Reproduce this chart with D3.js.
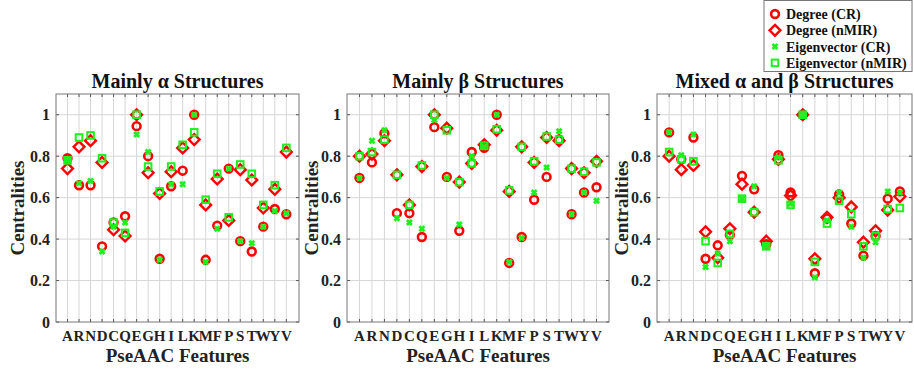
<!DOCTYPE html>
<html>
<head>
  <script src="https://d3js.org/d3.v7.min.js"></script>
  <style>
    body { margin: 0; background: #fff; }
    svg { font-family: "Liberation Serif", "Times New Roman", serif; font-weight: bold; }
    .grid line { stroke: #d6d6d6; stroke-width: 1; }
    .tick-label { font-size: 16px; fill: #222; }
    .x-label { font-size: 15px; fill: #222; }
    .title { font-size: 20px; text-anchor: middle; fill: #111; }
    .axis-label { font-size: 19px; text-anchor: middle; fill: #222; }
    .legend-text { font-size: 14px; fill: #111; }
  </style>
</head>
<body>
  <div id="chart"></div>
  <script>
    const categories = ["A","R","N","D","C","Q","E","G","H","I","L","K","M","F","P","S","T","W","Y","V"];
    const panelTitles = ["Mainly α Structures", "Mainly β Structures", "Mixed α and β Structures"];
    const seriesNames = ["Degree (CR)", "Degree (nMIR)", "Eigenvector (CR)", "Eigenvector (nMIR)"];
    const yTicks = [0, 0.2, 0.4, 0.6, 0.8, 1];

    // Mainly alpha
    const alphaDegreeCR   = [0.79,0.66,0.66,0.365,0.48,0.51,0.945,0.80,0.305,0.655,0.73,1.0,0.30,0.465,0.74,0.39,0.34,0.46,0.545,0.52];
    const alphaDegreeNMIR = [0.74,0.845,0.875,0.77,0.445,0.415,1.0,0.72,0.62,0.725,0.84,0.88,0.565,0.69,0.49,0.735,0.685,0.55,0.64,0.82];
    const alphaEigCR      = [0.78,0.67,0.68,0.34,0.46,0.48,0.905,0.82,0.30,0.665,0.665,1.0,0.29,0.45,0.74,0.39,0.38,0.46,0.535,0.525];
    const alphaEigNMIR    = [0.78,0.89,0.90,0.79,0.48,0.43,1.0,0.75,0.63,0.75,0.855,0.915,0.59,0.715,0.505,0.76,0.715,0.565,0.66,0.84];

    // Mainly beta
    const betaDegreeCR   = [0.695,0.77,0.91,0.525,0.525,0.41,0.94,0.70,0.44,0.82,0.84,1.0,0.285,0.41,0.59,0.70,0.88,0.52,0.625,0.65];
    const betaDegreeNMIR = [0.80,0.81,0.875,0.71,0.565,0.75,1.0,0.935,0.675,0.765,0.855,0.925,0.63,0.845,0.77,0.89,0.875,0.74,0.72,0.775];
    const betaEigCR      = [0.695,0.875,0.925,0.50,0.48,0.45,0.975,0.695,0.47,0.80,0.845,1.0,0.29,0.405,0.625,0.745,0.92,0.52,0.625,0.585];
    const betaEigNMIR    = [0.80,0.82,0.88,0.71,0.565,0.755,1.0,0.925,0.675,0.765,0.85,0.93,0.635,0.845,0.775,0.895,0.88,0.74,0.725,0.77];

    // Mixed alpha and beta
    const mixedDegreeCR   = [0.915,0.785,0.89,0.305,0.37,0.42,0.705,0.64,0.375,0.805,0.625,1.0,0.235,0.50,0.615,0.475,0.32,0.415,0.595,0.63];
    const mixedDegreeNMIR = [0.80,0.735,0.755,0.435,0.31,0.45,0.665,0.53,0.39,0.785,0.61,1.0,0.305,0.505,0.60,0.555,0.385,0.44,0.54,0.605];
    const mixedEigCR      = [0.915,0.805,0.905,0.265,0.33,0.39,0.595,0.655,0.365,0.795,0.57,1.0,0.215,0.49,0.625,0.46,0.31,0.385,0.63,0.625];
    const mixedEigNMIR    = [0.82,0.785,0.775,0.39,0.285,0.425,0.595,0.53,0.365,0.78,0.565,1.0,0.29,0.475,0.585,0.52,0.365,0.415,0.545,0.55];

    const panelData = [
      [alphaDegreeCR, alphaDegreeNMIR, alphaEigCR, alphaEigNMIR],
      [betaDegreeCR, betaDegreeNMIR, betaEigCR, betaEigNMIR],
      [mixedDegreeCR, mixedDegreeNMIR, mixedEigCR, mixedEigNMIR]
    ];

    const W = 914, H = 369;
    const plotTop = 94, plotBottom = 322;
    const panels = [
      {left: 56, right: 299, xmax: 21.1, ylab: 17},
      {left: 347, right: 609, xmax: 21, ylab: 311},
      {left: 657, right: 912, xmax: 21, ylab: 621}
    ];
    const red = "#ff0000", green = "#1ef01e";

    const svg = d3.select("#chart").append("svg")
      .attr("width", W).attr("height", H);

    const y = d3.scaleLinear().domain([0, 1.1]).range([plotBottom, plotTop]);

    // marker drawers
    function drawMarker(g, type, cx, cy) {
      if (type === 0) {
        g.append("circle").attr("cx", cx).attr("cy", cy).attr("r", 3.9)
          .attr("fill", "none").attr("stroke", red).attr("stroke-width", 2.6);
      } else if (type === 1) {
        const s = 5.4;
        g.append("path")
          .attr("d", `M${cx},${cy - s}L${cx + s},${cy}L${cx},${cy + s}L${cx - s},${cy}Z`)
          .attr("fill", "none").attr("stroke", red).attr("stroke-width", 2.4);
      } else if (type === 2) {
        const s = 2.5;
        g.append("path")
          .attr("d", `M${cx - s},${cy - s}L${cx + s},${cy + s}M${cx - s},${cy + s}L${cx + s},${cy - s}`)
          .attr("stroke", green).attr("stroke-width", 2.8).attr("fill", "none");
      } else {
        const s = 3.3;
        g.append("rect").attr("x", cx - s).attr("y", cy - s)
          .attr("width", 2 * s).attr("height", 2 * s)
          .attr("fill", "none").attr("stroke", green).attr("stroke-width", 2);
      }
    }

    panels.forEach((p, i) => {
      const x = d3.scaleLinear().domain([0, p.xmax]).range([p.left, p.right]);
      const g = svg.append("g");
      const xs = categories.map((c, k) => k + 1);

      // grid
      const grid = g.append("g").attr("class", "grid");
      grid.selectAll(".gx").data(xs).enter().append("line")
        .attr("x1", d => x(d)).attr("x2", d => x(d))
        .attr("y1", plotTop).attr("y2", plotBottom);
      grid.selectAll(".gy").data(yTicks.slice(1)).enter().append("line")
        .attr("x1", p.left).attr("x2", p.right)
        .attr("y1", d => y(d)).attr("y2", d => y(d));

      // tick marks (inside, bottom/top/left/right)
      const ticks = g.append("g").attr("stroke", "#555").attr("stroke-width", 1);
      xs.forEach(d => {
        ticks.append("line").attr("x1", x(d)).attr("x2", x(d)).attr("y1", plotBottom).attr("y2", plotBottom - 3);
        ticks.append("line").attr("x1", x(d)).attr("x2", x(d)).attr("y1", plotTop).attr("y2", plotTop + 3);
      });
      yTicks.forEach(d => {
        ticks.append("line").attr("x1", p.left).attr("x2", p.left + 3).attr("y1", y(d)).attr("y2", y(d));
        ticks.append("line").attr("x1", p.right).attr("x2", p.right - 3).attr("y1", y(d)).attr("y2", y(d));
      });

      // box
      g.append("rect").attr("x", p.left).attr("y", plotTop)
        .attr("width", p.right - p.left).attr("height", plotBottom - plotTop)
        .attr("fill", "none").attr("stroke", "#777").attr("stroke-width", 1);

      // y tick labels
      g.selectAll(".ylab").data(yTicks).enter().append("text")
        .attr("class", "tick-label")
        .attr("x", p.left - 6).attr("y", d => y(d) + 5.5)
        .attr("text-anchor", "end")
        .text(d => d === 0 ? "0" : d === 1 ? "1" : d3.format(".1f")(d));

      // x tick labels
      g.selectAll(".xlab").data(categories).enter().append("text")
        .attr("class", "x-label")
        .attr("x", (d, k) => x(k + 1)).attr("y", 341)
        .attr("text-anchor", "middle")
        .text(d => d);

      // titles and labels
      g.append("text").attr("class", "title")
        .attr("x", (p.left + p.right) / 2).attr("y", 88)
        .text(panelTitles[i]);
      g.append("text").attr("class", "axis-label")
        .attr("x", (p.left + p.right) / 2).attr("y", 362)
        .text("PseAAC Features");
      g.append("text").attr("class", "axis-label")
        .attr("transform", `translate(${p.ylab},${(plotTop + plotBottom) / 2}) rotate(-90)`)
        .attr("dy", "0.35em")
        .text("Centralities");

      // markers
      const mk = g.append("g");
      panelData[i].forEach((series, s) => {
        series.forEach((v, k) => drawMarker(mk, s, x(k + 1), y(v)));
      });
    });

    // legend
    const lg = svg.append("g");
    lg.append("rect").attr("x", 764).attr("y", 0.5).attr("width", 148).attr("height", 71)
      .attr("fill", "#fff").attr("stroke", "#777").attr("stroke-width", 1);
    seriesNames.forEach((name, s) => {
      const cy = 14 + s * 16.3;
      drawMarker(lg, s, 775, cy);
      lg.append("text").attr("class", "legend-text")
        .attr("x", 786).attr("y", cy + 5).text(name);
    });
  </script>
</body>
</html>
